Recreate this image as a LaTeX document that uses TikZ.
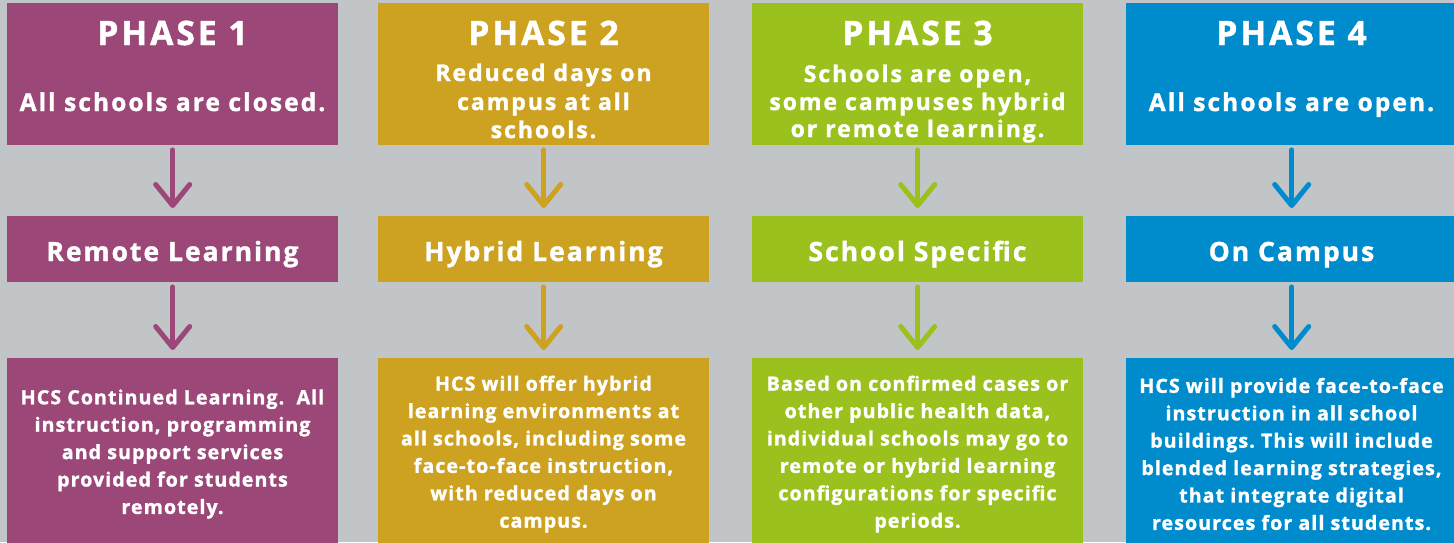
\documentclass[tikz,border=0pt]{standalone}
\usepackage{fontspec}
\setmainfont{Open Sans}[BoldFeatures={FakeBold=1.4}]
\usetikzlibrary{arrows.meta}
\definecolor{bgc}{RGB}{193,197,200}
\definecolor{cpur}{RGB}{155,71,119}
\definecolor{cgold}{RGB}{205,162,33}
\definecolor{cgreen}{RGB}{155,193,30}
\definecolor{cblue}{RGB}{0,139,204}
\begin{document}
\frenchspacing
\begin{tikzpicture}[x=1pt,y=-1pt,
  topbox/.style={fill=#1, draw=none, minimum width=331pt, minimum height=142pt, inner sep=0pt, anchor=north west},
  midbox/.style={fill=#1, draw=none, minimum width=331pt, minimum height=66pt, inner sep=0pt, anchor=north west},
  botbox/.style={fill=#1, draw=none, minimum width=331pt, minimum height=200pt, inner sep=0pt, anchor=north west},
  title/.style={text=white, anchor=base, inner sep=0pt, font=\fontsize{33.6}{40}\selectfont\bfseries\addfontfeatures{LetterSpace=9}},
  sub/.style={text=white, anchor=base, inner sep=0pt, font=\fontsize{24.5}{28}\selectfont\bfseries\addfontfeatures{LetterSpace=8.5}},
  subs/.style={text=white, anchor=base, inner sep=0pt, font=\fontsize{23}{28}\selectfont\bfseries\addfontfeatures{LetterSpace=8.5}},
  midtxt/.style={text=white, anchor=base, inner sep=0pt, font=\fontsize{26.5}{30}\selectfont\bfseries\addfontfeatures{LetterSpace=7.5}},
  bodytxt/.style={text=white, anchor=center, inner sep=0pt, align=center, font=\fontsize{19.6}{27.4}\selectfont\bfseries\addfontfeatures{LetterSpace=5.5}},
  arr/.style={draw=#1, line width=5pt, line cap=round, shorten <=4.5pt, shorten >=8pt,
    -{Straight Barb[length=21pt,width=34pt,line join=round,line cap=round]}}
]
\fill[bgc] (0,0) rectangle (1454,542);
\clip (0,0) rectangle (1454,542);

% Phase 1
\node[topbox=cpur] (t1) at (7,3) {};
\node[midbox=cpur] (m1) at (7,216) {};
\node[botbox=cpur] (b1) at (7,358) {};
\node[title] (t1a) at (172.5,45) {PHASE 1};
\node[sub] (t1b) at (172.5,111) {All schools are closed.};
\node[midtxt] (m1a) at (172.5,261) {Remote Learning};
\node[bodytxt] (b1a) at (172.5,454) {HCS Continued Learning.\ \ All\\instruction, programming\\and support services\\provided for students\\remotely.};
\draw[arr=cpur] (t1.south) -- (m1.north);
\draw[arr=cpur] (m1.south) -- (b1.north);

% Phase 2
\node[topbox=cgold] (t2) at (378,3) {};
\node[midbox=cgold] (m2) at (378,216) {};
\node[botbox=cgold] (b2) at (378,358) {};
\node[title] (t2a) at (543.5,45) {PHASE 2};
\node[subs] (t2b) at (543.5,81) {Reduced days on};
\node[subs] (t2c) at (543.5,110) {campus at all};
\node[subs] (t2d) at (543.5,138) {schools.};
\node[midtxt] (m2a) at (543.5,261) {Hybrid Learning};
\node[bodytxt] (b2a) at (543.5,454) {HCS will offer hybrid\\learning environments at\\all schools, including some\\face-to-face instruction,\\with reduced days on\\campus.};
\draw[arr=cgold] (t2.south) -- (m2.north);
\draw[arr=cgold] (m2.south) -- (b2.north);

% Phase 3
\node[topbox=cgreen] (t3) at (752,3) {};
\node[midbox=cgreen] (m3) at (752,216) {};
\node[botbox=cgreen] (b3) at (752,358) {};
\node[title] (t3a) at (917.5,45) {PHASE 3};
\node[subs] (t3b) at (917.5,82) {Schools are open,};
\node[subs] (t3c) at (917.5,110) {some campuses hybrid};
\node[subs] (t3d) at (917.5,137) {or remote learning.};
\node[midtxt] (m3a) at (917.5,261) {School Specific};
\node[bodytxt] (b3a) at (917.5,454) {Based on confirmed cases or\\other public health data,\\individual schools may go to\\remote or hybrid learning\\configurations for specific\\periods.};
\draw[arr=cgreen] (t3.south) -- (m3.north);
\draw[arr=cgreen] (m3.south) -- (b3.north);

% Phase 4
\node[topbox=cblue] (t4) at (1126,3) {};
\node[midbox=cblue] (m4) at (1126,216) {};
\node[botbox=cblue] (b4) at (1126,358) {};
\node[title] (t4a) at (1291.5,45) {PHASE 4};
\node[sub] (t4b) at (1291.5,111) {All schools are open.};
\node[midtxt] (m4a) at (1291.5,261) {On Campus};
\node[bodytxt] (b4a) at (1291.5,454) {HCS will provide face-to-face\\instruction in all school\\buildings. This will include\\blended learning strategies,\\that integrate digital\\resources for all students.};
\draw[arr=cblue] (t4.south) -- (m4.north);
\draw[arr=cblue] (m4.south) -- (b4.north);
\end{tikzpicture}
\end{document}
